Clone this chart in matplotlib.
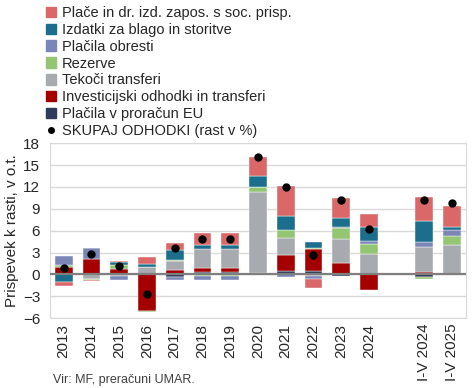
import numpy as np
import matplotlib.pyplot as plt
from matplotlib.patches import Patch
from matplotlib.lines import Line2D

plt.rcParams['font.family'] = ['Liberation Sans', 'DejaVu Sans']

# -------------------- data (contributions to growth, p.p.) --------------------
years = ["2013", "2014", "2015", "2016", "2017", "2018", "2019", "2020",
         "2021", "2022", "2023", "2024", "", "I-V 2024", "I-V 2025"]

# stacking order from zero outwards
eu_payments = [0.0, 0.0, 0.0, 0.0, -0.3, 0.3, 0.3, 0.0, 0.5, 0.45, -0.25, 0.0, np.nan, -0.3, 0.0]
investment  = [1.05, 2.18, 0.7, -5.05, 0.55, 0.64, 0.64, 0.18, 2.23, 3.0, 1.55, -2.14, np.nan, 0.27, 0.0]
transfers   = [0.0, -0.6, -0.25, 1.05, 1.27, 2.55, 2.55, 11.14, 2.32, -0.25, 3.36, 2.86, np.nan, 3.55, 4.0]
reserves    = [0.25, -0.15, 0.55, -0.1, 0.1, -0.25, -0.25, 0.68, 1.09, 0.16, 1.41, 1.27, np.nan, -0.27, 1.27]
interest    = [1.2, 1.5, -0.45, 0.0, -0.5, -0.45, -0.45, 0.0, -0.3, -0.35, 0.18, 0.41, np.nan, 0.64, 0.86]
goods       = [-1.0, 0.0, 0.45, 0.42, 1.45, 0.5, 0.5, 1.5, 1.86, 0.9, 1.27, 1.95, np.nan, 2.9, 0.36]
wages       = [-0.6, -0.1, 0.18, 0.95, 0.9, 1.65, 1.65, 2.64, 4.18, -1.27, 2.73, 1.82, np.nan, 3.27, 2.86]

total = [0.93, 2.82, 1.13, -2.73, 3.64, 4.9, 4.9, 16.05, 11.95, 2.73, 10.27, 6.18, np.nan, 10.14, 9.82]

series = [
    ("Plačila v proračun EU", eu_payments, "#2F3B5C"),
    ("Investicijski odhodki in transferi", investment, "#A50000"),
    ("Tekoči transferi", transfers, "#A7ABAF"),
    ("Rezerve", reserves, "#93C572"),
    ("Plačila obresti", interest, "#7B86B8"),
    ("Izdatki za blago in storitve", goods, "#1B6F8C"),
    ("Plače in dr. izd. zapos. s soc. prisp.", wages, "#DB6868"),
]

# -------------------- plot --------------------
fig = plt.figure(figsize=(4.75, 3.88), dpi=100)
ax = fig.add_axes([0.105, 0.180, 0.876, 0.451])

x = np.arange(len(years))
pos_base = np.zeros(len(years))
neg_base = np.zeros(len(years))
for name, vals, col in series:
    v = np.nan_to_num(np.array(vals, dtype=float))
    base = np.where(v >= 0, pos_base, neg_base)
    ax.bar(x, v, bottom=base, width=0.64, color=col, edgecolor="white",
           linewidth=0.3, zorder=3)
    pos_base += np.where(v >= 0, v, 0)
    neg_base += np.where(v < 0, v, 0)

ax.plot(x, total, "o", color="black", markersize=5, zorder=5, linestyle="none")

ax.axhline(0, color="#7F7F7F", linewidth=1.6, zorder=4)
ax.set_ylim(-6, 18)
ax.set_yticks(np.arange(-6, 19, 3))
ax.set_xlim(-0.5, len(years) - 0.5)
ax.set_xticks([i for i, y in enumerate(years) if y])
ax.set_xticklabels([y for y in years if y], rotation=90, fontsize=11)
ax.tick_params(axis="y", labelsize=11, length=0, pad=7, labelcolor="#262626")
ax.tick_params(axis="x", length=0, pad=4, labelcolor="#262626")
ax.grid(axis="y", color="#D9D9D9", linewidth=1, zorder=0)
for s in ax.spines.values():
    s.set_color("#D9D9D9")
ax.set_ylabel("Prispevek k rasti, v o.t.", fontsize=11, labelpad=3, color="#262626")

handles = [Patch(color=col, label=name) for name, _, col in reversed(series)]
handles.append(Line2D([], [], marker="o", color="black", linestyle="none",
                      markersize=4, label="SKUPAJ ODHODKI (rast v %)"))
leg = fig.legend(handles=handles, loc="upper left", bbox_to_anchor=(0.085, 1.0),
                 frameon=False, fontsize=10.5, handlelength=0.7, handleheight=0.7,
                 handletextpad=0.35, labelspacing=0.2, borderaxespad=0)
for t in leg.get_texts():
    t.set_color("#262626")

fig.text(0.112, 0.012, "Vir: MF, preračuni UMAR.", fontsize=9, color="#404040")

fig.savefig("out.png", dpi=100)
